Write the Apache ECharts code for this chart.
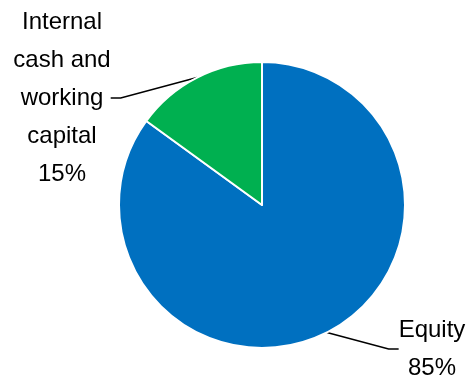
<!DOCTYPE html>
<html>
<head>
<meta charset="utf-8">
<script src="https://cdn.jsdelivr.net/npm/echarts@6/dist/echarts.min.js"></script>
<style>
  html,body{margin:0;padding:0;background:#fff;}
  #chart{width:468px;height:378px;}
</style>
</head>
<body>
<div id="chart"></div>
<script>
var names = ['Equity', 'Internal\ncash and\nworking\ncapital'];
var values = [85, 15];
var colors = ['#0070C0', '#00B050'];

// where each label block sits
var labelPos = [[432, 349], [62, 98]];

var chart = echarts.init(document.getElementById('chart'));

var data = names.map(function(n, i){
  return {name: n, value: values[i], itemStyle: {color: colors[i]}};
});

chart.setOption({
  animation: false,
  series: [{
    type: 'pie',
    center: [262, 205],
    radius: 143,
    startAngle: 90,
    clockwise: true,
    data: data,
    itemStyle: {borderColor: '#fff', borderWidth: 2},
    label: {
      show: true,
      formatter: '{b}\n{d}%',
      fontFamily: 'Liberation Sans, Arial, sans-serif',
      fontSize: 24,
      lineHeight: 38,
      color: '#000',
      align: 'center'
    },
    labelLine: {
      show: true,
      length: 10,
      length2: 10,
      lineStyle: {color: '#000', width: 1.5}
    },
    labelLayout: function(p){
      var pos = labelPos[p.dataIndex];
      return {x: pos[0], y: pos[1], align: 'center', verticalAlign: 'middle'};
    }
  }]
});
</script>
</body>
</html>
